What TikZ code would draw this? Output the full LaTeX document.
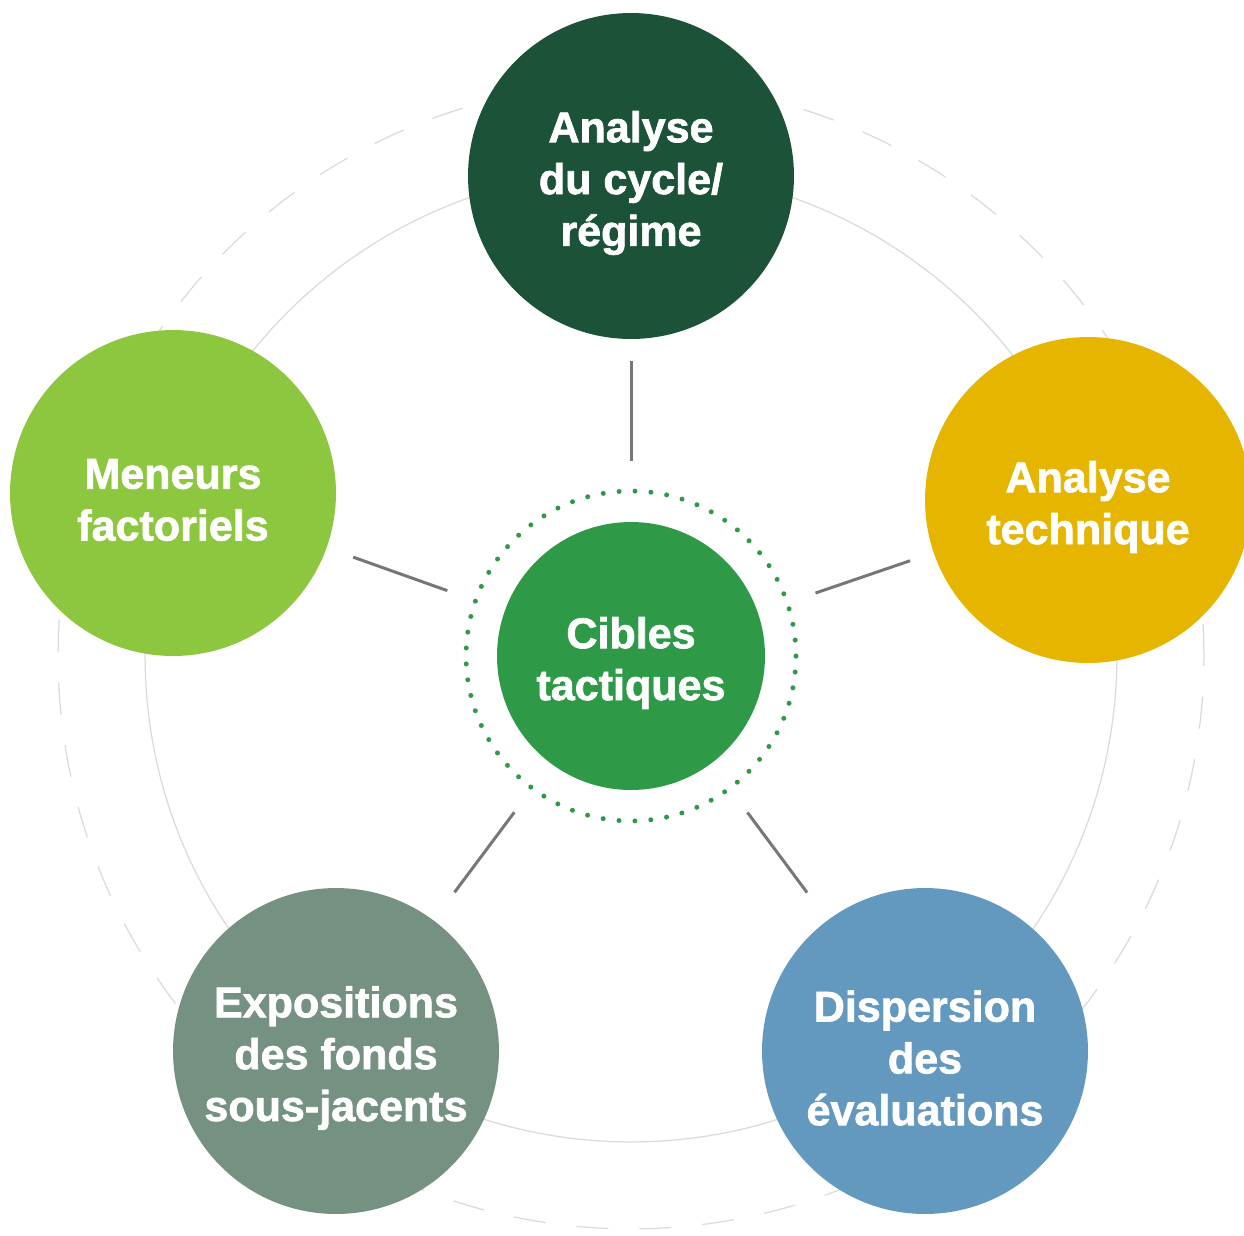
\documentclass[tikz,border=0pt]{standalone}
\usepackage{fontspec}
\setmainfont{Liberation Sans}[BoldFeatures={FakeBold=1.6}]
\usetikzlibrary{positioning, calc}
\definecolor{darkpine}{HTML}{1C5237}
\definecolor{mustard}{HTML}{E6B500}
\definecolor{lime}{HTML}{8DC63F}
\definecolor{sage}{HTML}{749181}
\definecolor{steel}{HTML}{6399BF}
\definecolor{leaf}{HTML}{2E9A48}
\definecolor{ringgray}{HTML}{DADADA}
\definecolor{linkgray}{HTML}{777777}
\tikzset{
  wheel/.style={
	x=0.02cm, y=-0.02cm, % one unit per pixel, y pointing down
	every node/.style={circle, inner sep=0pt},
	caption/.style={text=white, align=center, yshift=-0.14cm, % a bit below the disc centre
	  font=\bfseries\fontsize{24.5}{29.5}\selectfont}, % heavy white labels
	pillar/.style={minimum size=6.52cm}, % the five outer discs
	hubdisc/.style={minimum size=5.36cm, fill=leaf}, % the centre disc
	orbit/.style={draw=ringgray, line width=0.7pt}, % solid guide circle
	outerorbit/.style={orbit, dash pattern=on 0.64cm off 0.62cm}, % dashed guide circle
	halo/.style={draw=leaf, line width=0.1cm, line cap=round,
	  dash pattern=on 0pt off 0.319cm}, % dotted ring round the centre
	link/.style={draw=linkgray, line width=0.06cm}, % short spokes
  }
}
\begin{document}
\begin{tikzpicture}[wheel]
	  \useasboundingbox (0,0) rectangle (1244,1235);

	  % guide circles behind everything
	  \draw[outerorbit] (631,656) circle[radius=11.46cm];
	  \draw[orbit] (631,656) circle[radius=9.72cm];

	  \node[hubdisc] (hub) at (631,656) {};
	  \draw[halo] (hub.center) circle[radius=3.3cm];

	  \node[pillar, fill=darkpine] (cycle) at (631,176) {};
	  \node[pillar, fill=mustard] (tech) at (1088,500) {};
	  \node[pillar, fill=steel] (spread) at (925,1051) {};
	  \node[pillar, fill=sage] (funds) at (336,1051) {};
	  \node[pillar, fill=lime] (factors) at (173,493) {};

	  % white captions on the discs
	  \foreach \n/\t in {hub/{Cibles\\tactiques},
		  cycle/{Analyse\\du cycle/\\régime},
		  tech/{Analyse\\technique},
		  spread/{Dispersion\\des\\évaluations},
		  funds/{Expositions\\des fonds\\sous-jacents},
		  factors/{Meneurs\\factoriels}}
		\node[caption] (\n-text) at (\n) {\t};

	  \foreach \n in {cycle, tech, spread, funds, factors}
		\draw[link] ($(hub)!3.9cm!(\n)$) -- ($(hub)!5.9cm!(\n)$);
\end{tikzpicture}
\end{document}
